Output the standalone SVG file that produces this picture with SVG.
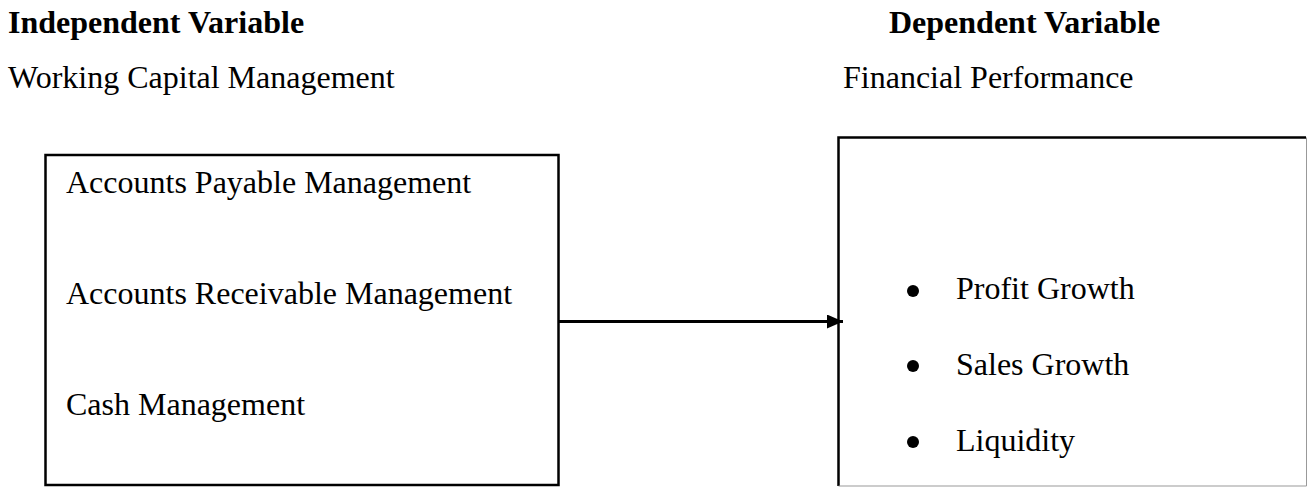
<svg xmlns="http://www.w3.org/2000/svg" width="1307" height="487" viewBox="0 0 1307 487">
  <style>
    .t { font-family: "Liberation Serif", "Times New Roman", serif; font-size: 32px; fill: #000; }
    .b { font-weight: bold; }
    .box { fill: none; stroke: #000; stroke-width: 2.5; }
  </style>
  <defs>
    <marker id="arr" viewBox="0 0 16 14" refX="16" refY="7" markerWidth="16" markerHeight="14" markerUnits="userSpaceOnUse" orient="auto">
      <polygon points="0,0 16,7 0,14" fill="#000"/>
    </marker>
  </defs>
  <rect width="1307" height="487" fill="#fff"/>
  <g id="headers">
    <text class="t b" x="8" y="33">Independent Variable</text>
    <text class="t" x="8" y="88">Working Capital Management</text>
    <text class="t b" x="889" y="33">Dependent Variable</text>
    <text class="t" x="843" y="88">Financial Performance</text>
  </g>
  <g id="independent">
    <rect class="box" x="45.5" y="155" width="513" height="330"/>
    <text class="t" x="66" y="193">Accounts Payable Management</text>
    <text class="t" x="66" y="304">Accounts Receivable Management</text>
    <text class="t" x="66" y="415">Cash Management</text>
  </g>
  <g id="dependent">
    <path d="M838.5,486 V137.5 H1306" fill="none" stroke="#000" stroke-width="2.5"/>
    <path d="M838.5,486 H1306.5 V137.5" fill="none" stroke="#999" stroke-width="1"/>
    <circle cx="913" cy="291" r="6"/>
    <circle cx="913" cy="366" r="6"/>
    <circle cx="913" cy="442" r="6"/>
    <text class="t" x="956" y="299">Profit Growth</text>
    <text class="t" x="956" y="375">Sales Growth</text>
    <text class="t" x="956" y="451">Liquidity</text>
  </g>
  <g id="connectors">
    <line x1="559" y1="321.5" x2="843" y2="321.5" stroke="#000" stroke-width="3" marker-end="url(#arr)"/>
  </g>
</svg>
